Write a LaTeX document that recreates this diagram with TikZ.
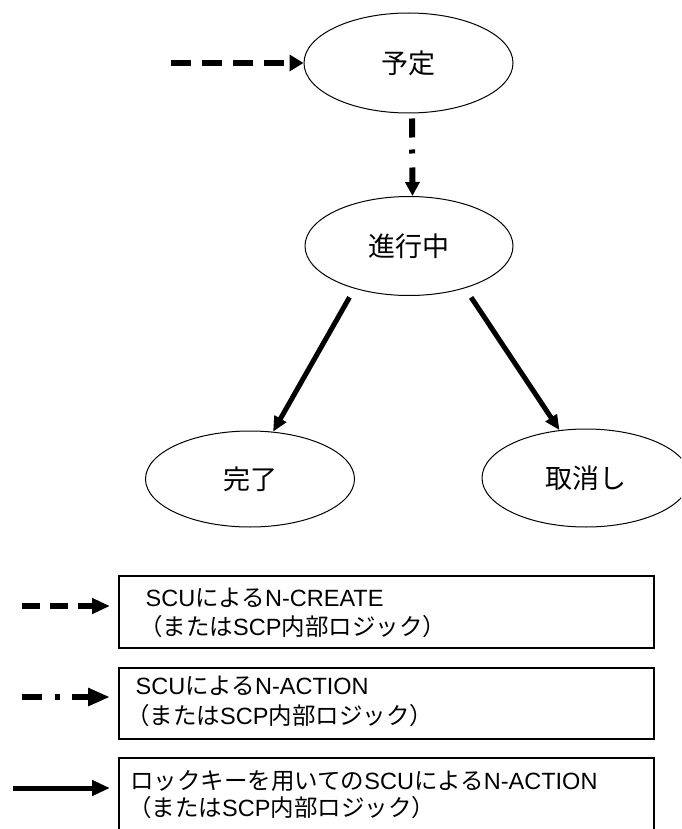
\documentclass[tikz,border=0pt]{standalone}
\usepackage{fontspec}
\setmainfont{Liberation Sans}
\newfontfamily\jp{Noto Sans CJK JP}
\usetikzlibrary{arrows.meta,shapes.geometric}
\newcommand\J[1]{{\jp #1}}

\begin{document}
\begin{tikzpicture}[x=1pt,y=-1pt,
  state/.style={ellipse, draw, line width=1pt, inner sep=0pt,
    font=\jp\fontsize{27}{30}\selectfont},
  legbox/.style={rectangle, draw, line width=1.8pt, inner sep=0pt,
    anchor=north west, minimum width=535pt},
  legtext/.style={anchor=base west, inner sep=0pt,
    font=\fontsize{23.5}{28}\selectfont},
  createarr/.style={line width=5.5pt, dash pattern=on 20pt off 11pt,
    -{Triangle[length=14pt,width=16pt]}},
  actionarr/.style={line width=6pt, dash pattern=on 19pt off 12pt on 4pt off 14pt,
    -{Triangle[length=14pt,width=14pt]}},
  lockarr/.style={line width=5pt, -{Triangle[length=15pt,width=13pt]}},
  keycreate/.style={line width=6pt, dash pattern=on 18pt off 10pt,
    -{Triangle[length=18pt,width=15pt]}},
  keyaction/.style={line width=5.5pt, dash pattern=on 20pt off 13pt on 5pt off 12pt,
    -{Triangle[length=22pt,width=17pt]}},
  keylock/.style={line width=5pt, -{Triangle[length=18pt,width=15pt]}}
]
\useasboundingbox (0,0) rectangle (681,829);
\clip (0,0) rectangle (681,829);

% states
\node[state, minimum width=209pt, minimum height=100pt] (sched)  at (408.5,63) {予定};
\node[state, minimum width=208pt, minimum height=99pt]  (prog)   at (409,246)  {進行中};
\node[state, minimum width=209pt, minimum height=96pt]  (done)   at (250,479)  {完了};
\node[state, minimum width=208pt, minimum height=98pt]  (cancel) at (586,478)  {取消し};

% transitions
\coordinate (entry) at (171,63);
\draw[createarr] (entry) -- (sched.west);
\draw[actionarr, shorten <=5pt] ([xshift=3.5pt]sched.south) -- ([xshift=3.5pt]prog.north);
\draw[lockarr, shorten <=10pt] (prog.218) -- (done.64);
\draw[lockarr, shorten <=11pt] (prog.-37) -- (cancel.119);

% key
\node[legbox, minimum height=72pt]  (box1) at (118,575) {};
\node[legbox, minimum height=71pt]  (box2) at (118,667) {};
\node[legbox, minimum height=100pt] (box3) at (118,757) {};

\node[legtext] (t1a) at (145.5,606) {SCU\J{による}N-CREATE};
\node[legtext] (t1b) at (139,635)   {\J{（または}SCP\J{内部ロジック）}};
\node[legtext] (t2a) at (135.5,694) {SCU\J{による}N-ACTION};
\node[legtext] (t2b) at (126,724)   {\J{（または}SCP\J{内部ロジック）}};
\node[legtext] (t3a) at (130,789)   {\J{ロックキーを用いての}SCU\J{による}N-ACTION};
\node[legtext] (t3b) at (128,816)   {\J{（または}SCP\J{内部ロジック）}};

\coordinate (k1) at (22,606);
\coordinate (k2) at (22,697);
\coordinate (k3) at (13,788);
\draw[keycreate, shorten >=8pt] (k1) -- (box1.west |- k1);
\draw[keyaction, shorten >=8pt] (k2) -- (box2.west |- k2);
\draw[keylock,   shorten >=8pt] (k3) -- (box3.west |- k3);
\end{tikzpicture}
\end{document}
